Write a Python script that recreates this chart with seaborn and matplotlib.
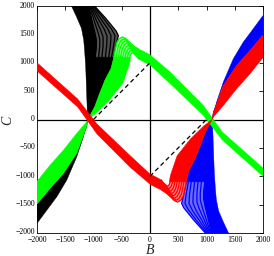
import matplotlib
matplotlib.use("Agg")
import matplotlib.pyplot as plt
import matplotlib.transforms as mtransforms
import seaborn as sns
import pandas as pd

# ---------------- data ----------------
# black family (upper-left)
blk_poly_B = [-1390, -1085, -1030, -975, -950, -950, -970, -640, -690, -800, -890, -979, -1100,
              -1120, -1296, -1531, -1767, -2000, -2000, -1825, -1649, -1473, -1296, -1178, -1105,
              -1125, -1138, -1155, -1173, -1213, -1302]
blk_poly_C = [2000, 2000, 1750, 1530, 1400, 1270, 1100, 1100, 900, 690, 465, 226, 0,
              -127, -596, -949, -1213, -1490, -1831, -1596, -1361, -1067, -656, -303, 0,
              578, 931, 1185, 1402, 1608, 1813]
blk_fan_B = [[-980, -780, -600, -560, -600, -640],
             [-1000, -830, -680, -620, -640, -680],
             [-1020, -880, -750, -690, -700, -730],
             [-1040, -920, -810, -760, -765, -790],
             [-1055, -960, -870, -830, -830, -850],
             [-1070, -995, -925, -890, -890, -910],
             [-1085, -1030, -975, -950, -950, -970]]
blk_fan_C = [[2000, 1780, 1560, 1480, 1300, 1100],
             [2000, 1790, 1590, 1480, 1320, 1100],
             [2000, 1790, 1600, 1480, 1320, 1100],
             [2000, 1780, 1590, 1470, 1320, 1100],
             [2000, 1770, 1570, 1450, 1310, 1100],
             [2000, 1760, 1550, 1420, 1290, 1100],
             [2000, 1750, 1530, 1400, 1270, 1100]]

# green family
grn_low_B = [-1100, -1120, -1296, -1531, -1767, -2000, -2000, -1767, -1531, -1296, -1120]
grn_low_C = [0, -39, -243, -538, -802, -1090, -1490, -1213, -949, -596, -127]
grn_leg_B = [-1100, -979, -890, -800, -690, -640, -340, -362, -480, -714, -949]
grn_leg_C = [0, 226, 465, 690, 900, 1100, 1100, 979, 638, 344, 115]
grn_band_B = [-200, -120, 0, 350, 938, 1280, 2000, 2000, 1280, 938, 350, 0, -120, -200]
grn_band_C = [1240, 1205, 1140, 843, 256, -220, -855, -1002, -362, 79, 638, 961, 1020, 1065]
grn_fan_B = [[-640, -610, -590, -550, -490, -430, -360, -280, -200],
             [-600, -575, -555, -515, -465, -415, -350, -275, -200],
             [-560, -540, -520, -480, -440, -398, -338, -268, -200],
             [-520, -505, -485, -450, -415, -380, -325, -260, -200],
             [-480, -468, -450, -420, -390, -360, -312, -252, -200],
             [-440, -430, -415, -390, -365, -340, -298, -244, -200],
             [-400, -392, -380, -360, -340, -320, -284, -236, -200],
             [-360, -352, -345, -330, -315, -300, -270, -228, -200]]
grn_fan_C = [[1100, 1250, 1344, 1420, 1455, 1430, 1360, 1290, 1240],
             [1100, 1230, 1315, 1390, 1420, 1395, 1330, 1268, 1215],
             [1100, 1210, 1285, 1355, 1385, 1362, 1302, 1245, 1190],
             [1100, 1190, 1255, 1320, 1345, 1325, 1270, 1218, 1165],
             [1100, 1170, 1225, 1280, 1305, 1288, 1240, 1190, 1140],
             [1100, 1150, 1195, 1240, 1262, 1250, 1208, 1162, 1115],
             [1100, 1130, 1165, 1200, 1220, 1210, 1178, 1135, 1090],
             [1100, 1115, 1135, 1160, 1175, 1168, 1145, 1105, 1065]]

# blue family (lower-right)
blu_poly_B = [1390, 1085, 1030, 975, 950, 950, 970, 640, 690, 800, 890, 979, 1100,
              1120, 1296, 1531, 1767, 2000, 2000, 1825, 1649, 1473, 1296, 1178, 1105,
              1125, 1138, 1155, 1173, 1213, 1302]
blu_poly_C = [-2000, -2000, -1750, -1530, -1400, -1270, -1100, -1100, -900, -690, -465, -226, 0,
              127, 596, 949, 1213, 1490, 1831, 1596, 1361, 1067, 656, 303, 0,
              -578, -931, -1185, -1402, -1608, -1813]
blu_fan_B = [[980, 780, 600, 560, 600, 640],
             [1000, 830, 680, 620, 640, 680],
             [1020, 880, 750, 690, 700, 730],
             [1040, 920, 810, 760, 765, 790],
             [1055, 960, 870, 830, 830, 850],
             [1070, 995, 925, 890, 890, 910],
             [1085, 1030, 975, 950, 950, 970]]
blu_fan_C = [[-2000, -1780, -1560, -1480, -1300, -1100],
             [-2000, -1790, -1590, -1480, -1320, -1100],
             [-2000, -1790, -1600, -1480, -1320, -1100],
             [-2000, -1780, -1590, -1470, -1320, -1100],
             [-2000, -1770, -1570, -1450, -1310, -1100],
             [-2000, -1760, -1550, -1420, -1290, -1100],
             [-2000, -1750, -1530, -1400, -1270, -1100]]

# red family
red_low_B = [1100, 1120, 1296, 1531, 1767, 2000, 2000, 1767, 1531, 1296, 1120]
red_low_C = [0, 39, 243, 538, 802, 1090, 1490, 1213, 949, 596, 127]
red_leg_B = [1100, 979, 890, 800, 690, 640, 340, 362, 480, 714, 949]
red_leg_C = [0, -226, -465, -690, -900, -1100, -1100, -979, -638, -344, -115]
red_band_B = [200, 120, 0, -350, -938, -1280, -2000, -2000, -1280, -938, -350, 0, 120, 200]
red_band_C = [-1240, -1205, -1140, -843, -256, 220, 855, 1002, 362, -79, -638, -961, -1020, -1065]
red_fan_B = [[640, 610, 590, 550, 490, 430, 360, 280, 200],
             [600, 575, 555, 515, 465, 415, 350, 275, 200],
             [560, 540, 520, 480, 440, 398, 338, 268, 200],
             [520, 505, 485, 450, 415, 380, 325, 260, 200],
             [480, 468, 450, 420, 390, 360, 312, 252, 200],
             [440, 430, 415, 390, 365, 340, 298, 244, 200],
             [400, 392, 380, 360, 340, 320, 284, 236, 200],
             [360, 352, 345, 330, 315, 300, 270, 228, 200]]
red_fan_C = [[-1100, -1250, -1344, -1420, -1455, -1430, -1360, -1290, -1240],
             [-1100, -1230, -1315, -1390, -1420, -1395, -1330, -1268, -1215],
             [-1100, -1210, -1285, -1355, -1385, -1362, -1302, -1245, -1190],
             [-1100, -1190, -1255, -1320, -1345, -1325, -1270, -1218, -1165],
             [-1100, -1170, -1225, -1280, -1305, -1288, -1240, -1190, -1140],
             [-1100, -1150, -1195, -1240, -1262, -1250, -1208, -1162, -1115],
             [-1100, -1130, -1165, -1200, -1220, -1210, -1178, -1135, -1090],
             [-1100, -1115, -1135, -1160, -1175, -1168, -1145, -1105, -1065]]

# dashed reference segments
dash1_B = [-1000, 0]
dash1_C = [0, 1000]
dash2_B = [0, 1000]
dash2_C = [-1000, 0]

ticks = [-2000, -1500, -1000, -500, 0, 500, 1000, 1500, 2000]

# ---------------- drawing ----------------
sns.set_theme(style="white")
plt.rcParams['font.family'] = ['Liberation Serif', 'DejaVu Serif']

fig = plt.figure(figsize=(2.74, 2.56), dpi=100)
ax = fig.add_axes([37 / 274, 1 - 233 / 256, 226 / 274, 227 / 256])

ax.axhline(0, color='black', lw=0.9, zorder=1)
ax.axvline(0, color='black', lw=0.9, zorder=1)


def fan_frame(bs, cs):
    rows = []
    for i, (bb, cc) in enumerate(zip(bs, cs)):
        for b, c in zip(bb, cc):
            rows.append({'B': b, 'C': c, 'arc': i})
    return pd.DataFrame(rows)


def draw_family(polys, fan_b, fan_c, color, tint, z):
    # tinted background between the outermost and innermost fan curve
    ax.fill(list(fan_b[0]) + list(fan_b[-1])[::-1],
            list(fan_c[0]) + list(fan_c[-1])[::-1],
            color=tint, lw=0, zorder=z)
    for pb, pc in polys:
        ax.fill(pb, pc, color=color, lw=0.3, ec=color, zorder=z)
    df = fan_frame(fan_b, fan_c)
    sns.lineplot(data=df, x='B', y='C', units='arc', estimator=None, sort=False,
                 color=color, lw=0.9, ax=ax, zorder=z)


draw_family([(blk_poly_B, blk_poly_C)], blk_fan_B, blk_fan_C, '#000000', '#505050', 2)
draw_family([(blu_poly_B, blu_poly_C)], blu_fan_B, blu_fan_C, '#0000ff', '#6a6aff', 2)
draw_family([(grn_low_B, grn_low_C), (grn_leg_B, grn_leg_C), (grn_band_B, grn_band_C)],
            grn_fan_B, grn_fan_C, '#00ff00', '#8cff8c', 3)
draw_family([(red_low_B, red_low_C), (red_leg_B, red_leg_C), (red_band_B, red_band_C)],
            red_fan_B, red_fan_C, '#ff0000', '#ff8080', 4)

for db, dc in [(dash1_B, dash1_C), (dash2_B, dash2_C)]:
    sns.lineplot(x=db, y=dc, color='black', lw=0.9, ax=ax, zorder=5,
                 linestyle=(0, (3.5, 2.5)))

ax.set_xlim(-2000, 2000)
ax.set_ylim(-2000, 2000)
ax.set_xticks(ticks)
ax.set_yticks(ticks)
ax.set_xticklabels([str(t).replace('-', '\u2212') for t in ticks])
ax.set_yticklabels([str(t).replace('-', '\u2212') for t in ticks])
ax.tick_params(direction='in', top=True, right=True, length=3, width=0.6,
               labelsize=5.6, pad=1.5, colors='black')
ax.tick_params(axis='x', pad=1.8)
up = mtransforms.ScaledTranslation(0, 1.5 / 100, fig.dpi_scale_trans)
for lab in ax.get_yticklabels():
    lab.set_transform(lab.get_transform() + up)
for s in ax.spines.values():
    s.set_color('black')
    s.set_linewidth(0.6)
ax.set_xlabel('')
ax.set_ylabel('')
ax.grid(False)

fig.text(150 / 274, 1 - 250 / 256, 'B', ha='center', va='center', style='italic', size=10)
fig.text(8 / 274, 1 - 120 / 256, 'C', ha='center', va='center', style='italic', size=10,
         rotation=90)

fig.savefig('out.png', dpi=100, facecolor='white')
